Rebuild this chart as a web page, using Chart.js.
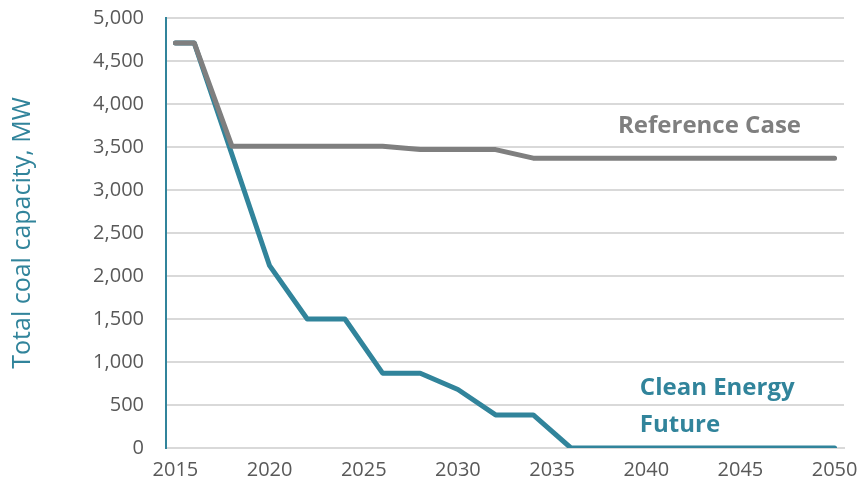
<!DOCTYPE html>
<html>
<head>
<meta charset="utf-8">
<script src="https://cdn.jsdelivr.net/npm/chart.js@4/dist/chart.umd.min.js"></script>
<style>
  html, body { margin: 0; padding: 0; background: #fff; }
  #wrap { width: 857px; height: 493px; }
</style>
</head>
<body>
<div id="wrap"><canvas id="mycanvas"></canvas></div>
<script>
// years on the category axis
var years = [];
for (var y = 2015; y <= 2050; y++) years.push(String(y));

// values read at the break points, null where the line just runs straight on
var referenceCase = [4710, 4710, null, 3510, null, null, null, null, null, null, null, 3510, null, 3470,
  null, null, null, 3470, null, 3370, null, null, null, null, null, null, null, null, null, null,
  null, null, null, null, null, 3370];
var cleanEnergy = [4710, 4710, null, null, null, 2120, null, 1500, null, 1500, null, 870, null, 870,
  null, 680, null, 385, null, 385, null, 0, null, null, null, null, null, null, null, null,
  null, null, null, null, null, 0];

var yTicks = [0, 500, 1000, 1500, 2000, 2500, 3000, 3500, 4000, 4500, 5000];

var TEAL = "#31849B";
var GREY = "#7F7F7F";

// text labels placed through the scales
var seriesLabels = [
  { text: "Reference Case", x: 23.5, y: 3663, color: GREY },
  { text: "Clean Energy", x: 24.66, y: 616, color: TEAL },
  { text: "Future", x: 24.66, y: 186, color: TEAL }
];

var labelPlugin = {
  id: "seriesLabels",
  afterDatasetsDraw: function(chart) {
    var ctx = chart.ctx;
    var xs = chart.scales.x, ys = chart.scales.y;
    ctx.save();
    ctx.font = "bold 24px 'Open Sans'";
    ctx.textAlign = "left";
    ctx.textBaseline = "alphabetic";
    seriesLabels.forEach(function(l) {
      ctx.fillStyle = l.color;
      ctx.fillText(l.text, xs.getPixelForValue(l.x), ys.getPixelForValue(l.y));
    });
    ctx.restore();
  }
};

var ctx = document.getElementById("mycanvas");
var LineGraph = new Chart(ctx, {
  type: "line",
  data: {
    labels: years,
    datasets: [
      {
        label: "Reference Case",
        data: referenceCase,
        borderColor: GREY,
        backgroundColor: GREY,
        borderWidth: 5,
        borderCapStyle: "round",
        borderJoinStyle: "round",
        pointRadius: 0,
        spanGaps: true,
        tension: 0
      },
      {
        label: "Clean Energy Future",
        data: cleanEnergy,
        borderColor: TEAL,
        backgroundColor: TEAL,
        borderWidth: 5,
        borderCapStyle: "round",
        borderJoinStyle: "round",
        pointRadius: 0,
        spanGaps: true,
        tension: 0
      }
    ]
  },
  options: {
    responsive: true,
    maintainAspectRatio: false,
    animation: false,
    layout: { padding: { top: 18, right: 13, left: 0, bottom: 0 } },
    plugins: { legend: { display: false }, tooltip: { enabled: false } },
    scales: {
      x: {
        type: "category",
        offset: true,
        grid: { display: false, drawTicks: false },
        border: { display: true, color: "#D9D9D9", width: 2 },
        ticks: {
          autoSkip: false,
          maxRotation: 0,
          padding: 10,
          color: "#595959",
          font: { family: "'Open Sans'", size: 20 },
          callback: function(val, i) { return i % 5 === 0 ? years[i] : ""; }
        },
        afterFit: function(scale) {
          scale.height = 45;
          scale.paddingLeft = 0;
          scale.paddingRight = 0;
        }
      },
      y: {
        min: 0,
        max: 5000,
        afterBuildTicks: function(scale) {
          scale.ticks = yTicks.map(function(v) { return { value: v }; });
        },
        grid: { color: "#D9D9D9", lineWidth: 2, drawTicks: false },
        border: { display: true, color: TEAL, width: 2 },
        ticks: {
          padding: 22,
          color: "#595959",
          font: { family: "'Open Sans'", size: 20 },
          callback: function(v) { return v.toLocaleString("en-US"); }
        },
        title: {
          display: true,
          text: "Total coal capacity, MW",
          color: TEAL,
          font: { family: "'Open Sans'", size: 25 },
          padding: { top: 8, bottom: 0 }
        },
        afterFit: function(scale) {
          scale.width = 166;
          scale.paddingTop = 0;
          scale.paddingBottom = 0;
        }
      }
    }
  },
  plugins: [labelPlugin]
});
</script>
</body>
</html>
